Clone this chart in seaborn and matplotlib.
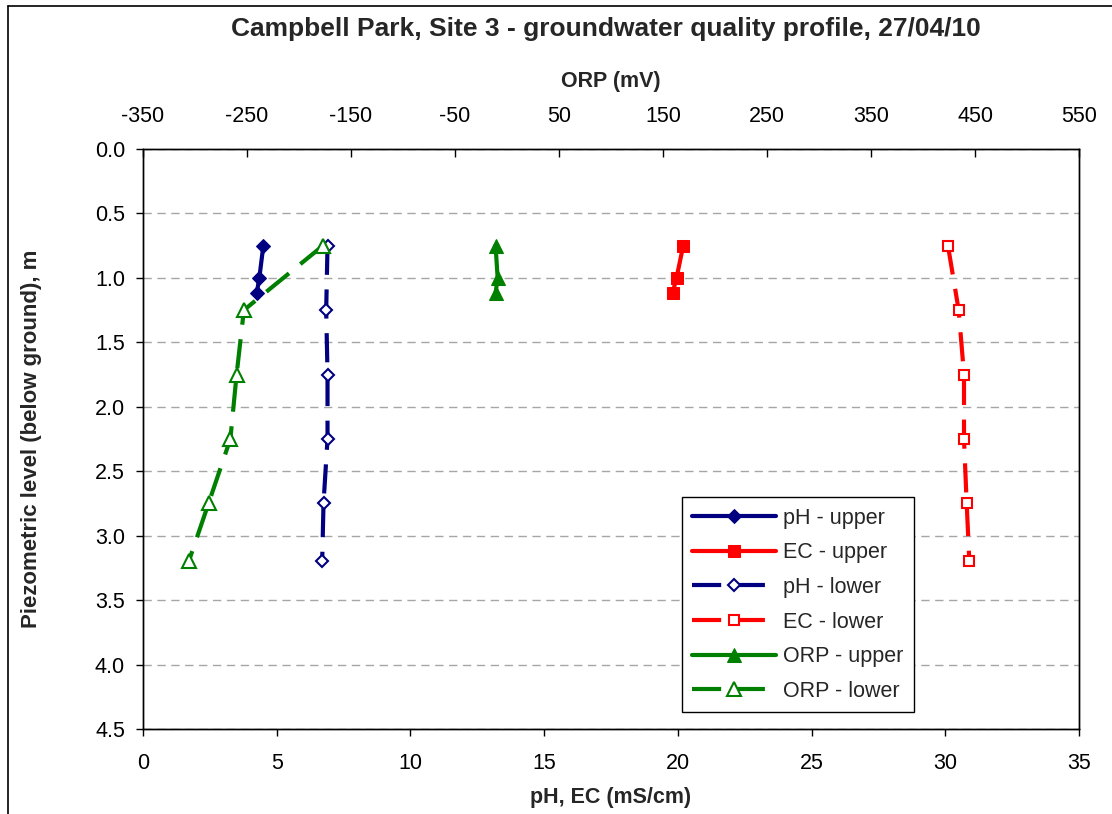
import matplotlib
matplotlib.use("Agg")
import matplotlib.pyplot as plt
import numpy as np
import pandas as pd
import seaborn as sns
from matplotlib.lines import Line2D

# --- data ---
depth_upper = [0.75, 1.0, 1.12]
ph_upper = [4.5, 4.35, 4.25]
ec_upper = [20.2, 19.95, 19.8]
orp_upper = [-11, -9, -11]

depth_lower = [0.75, 1.25, 1.75, 2.25, 2.75, 3.2]
ph_lower = [6.9, 6.85, 6.9, 6.9, 6.75, 6.7]
ec_lower = [30.1, 30.5, 30.7, 30.7, 30.8, 30.9]
orp_lower = [-177, -253, -260, -266, -287, -306]

up = pd.DataFrame({'depth': depth_upper, 'ph': ph_upper, 'ec': ec_upper, 'orp': orp_upper})
lo = pd.DataFrame({'depth': depth_lower, 'ph': ph_lower, 'ec': ec_lower, 'orp': orp_lower})

sns.set_theme(style="ticks")
plt.rcParams['font.family'] = ['Liberation Sans', 'DejaVu Sans']
plt.rcParams['axes.unicode_minus'] = False

NAVY, RED, GREEN = '#000080', '#FF0000', '#008000'
DASH = (0, (7, 3.5))

fig = plt.figure(figsize=(11.12, 8.14), dpi=100)
ax = fig.add_axes([143 / 1112, 1 - 729 / 814, 936 / 1112, 580 / 814])
ax2 = ax.twiny()

common = dict(sort=False, estimator=None, linewidth=3)

# series on the bottom axis (pH, EC)
sns.lineplot(data=up, x='ph', y='depth', ax=ax, color=NAVY, marker='D', markersize=7.5,
             markeredgecolor=NAVY, markerfacecolor=NAVY, label='pH - upper', **common)
sns.lineplot(data=up, x='ec', y='depth', ax=ax, color=RED, marker='s', markersize=8.5,
             markeredgecolor=RED, markerfacecolor=RED, label='EC - upper', **common)
sns.lineplot(data=lo, x='ph', y='depth', ax=ax, color=NAVY, marker='D', markersize=6.5,
             markeredgecolor=NAVY, markerfacecolor='white', markeredgewidth=1.5,
             linestyle=DASH, label='pH - lower', **common)
sns.lineplot(data=lo, x='ec', y='depth', ax=ax, color=RED, marker='s', markersize=7.5,
             markeredgecolor=RED, markerfacecolor='white', markeredgewidth=1.5,
             linestyle=DASH, label='EC - lower', **common)

# series on the top axis (ORP)
sns.lineplot(data=up, x='orp', y='depth', ax=ax2, color=GREEN, marker='^', markersize=10.5,
             markeredgecolor=GREEN, markerfacecolor=GREEN, label='ORP - upper', **common)
sns.lineplot(data=lo, x='orp', y='depth', ax=ax2, color=GREEN, marker='^', markersize=9.5,
             markeredgecolor=GREEN, markerfacecolor='white', markeredgewidth=1.5,
             linestyle=DASH, label='ORP - lower', **common)

# axes
ax.set_xlim(0, 35)
ax.set_ylim(4.5, 0)
ax2.set_xlim(-350, 550)
ax.set_xticks(range(0, 36, 5))
ax.set_yticks(np.arange(0, 4.51, 0.5))
ax.set_yticklabels([f'{v:.1f}' for v in np.arange(0, 4.51, 0.5)])
ax2.set_xticks(range(-350, 551, 100))

ax.yaxis.grid(True, color='#A6A6A6', linestyle=(0, (6, 4)), linewidth=1)
ax.xaxis.grid(False)
ax2.grid(False)

for a in (ax, ax2):
    for s in a.spines.values():
        s.set_color('black')
        s.set_linewidth(1)
ax.tick_params(axis='both', direction='out', length=5, width=1, colors='black', labelsize=15.5)
ax.tick_params(axis='x', pad=12)
ax.tick_params(axis='y', pad=8)
ax2.tick_params(axis='x', direction='in', length=6, width=1, colors='black', labelsize=15.5, pad=16)

ax.set_xlabel('pH, EC (mS/cm)', fontsize=15.5, fontweight='bold')
ax.set_ylabel('Piezometric level (below ground), m', fontsize=16, fontweight='bold')
ax2.set_xlabel('ORP (mV)', fontsize=15.5, fontweight='bold')
ax2.set_ylabel('')
ax.xaxis.set_label_coords(0.5, (729 - 797) / 580)
ax.xaxis.label.set_va('center')
ax.yaxis.set_label_coords((32 - 143) / 936, 0.5)
ax.yaxis.label.set_va('center')
ax2.xaxis.set_label_coords(0.5, (729 - 81) / 580)
ax2.xaxis.label.set_va('center')

# legend with all six series, drawn on the top axes
if ax.get_legend() is not None:
    ax.get_legend().remove()
h1, l1 = ax.get_legend_handles_labels()
h2, l2 = ax2.get_legend_handles_labels()
leg = ax2.legend(h1 + h2, l1 + l2, loc='lower left',
                 bbox_to_anchor=(0.564, 0.01), fontsize=15.5, handlelength=3.9,
                 frameon=True, fancybox=False, edgecolor='black', framealpha=1,
                 borderpad=0.5, labelspacing=0.63, handletextpad=0.3)
leg.get_frame().set_linewidth(1)

fig.text(606 / 1112, 1 - 29 / 814, 'Campbell Park, Site 3 - groundwater quality profile, 27/04/10',
         ha='center', va='center', fontsize=19, fontweight='bold')

# outer chart border (left and top edges visible)
fig.add_artist(Line2D([8 / 1112, 8 / 1112], [0, 1 - 6 / 814], transform=fig.transFigure,
                      color='black', linewidth=1.2))
fig.add_artist(Line2D([8 / 1112, 1], [1 - 6 / 814, 1 - 6 / 814], transform=fig.transFigure,
                      color='black', linewidth=1.2))

fig.savefig('out.png', dpi=100)
